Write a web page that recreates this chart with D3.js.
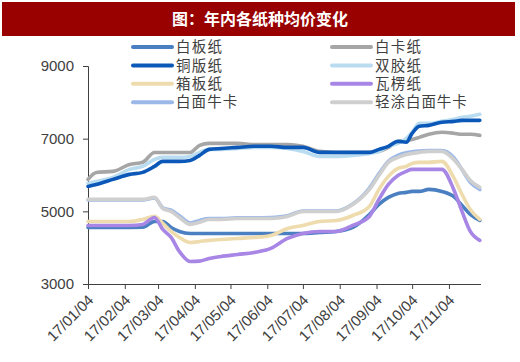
<!DOCTYPE html>
<html><head><meta charset="utf-8">
<script src="https://cdn.jsdelivr.net/npm/d3@7"></script>
<style>
body{margin:0;background:#fff;}
svg{display:block;}
text{font-family:"Liberation Sans",Arial,sans-serif;}
.cjk{font-family:"Noto Sans CJK SC","Noto Sans",sans-serif;}
</style></head>
<body><svg id="c" width="520" height="362"></svg>
<script>
const title = "图：年内各纸种均价变化";
const dates = ["2017-01-04","2017-01-11","2017-01-25","2017-02-08","2017-02-19","2017-03-01","2017-03-08","2017-03-15","2017-03-22","2017-03-31","2017-04-08","2017-04-16","2017-04-26","2017-05-10","2017-05-24","2017-06-07","2017-06-21","2017-07-04","2017-07-18","2017-08-01","2017-08-15","2017-08-29","2017-09-06","2017-09-14","2017-09-22","2017-09-29","2017-10-04","2017-10-10","2017-10-18","2017-10-29","2017-11-08","2017-11-15","2017-11-22","2017-11-30"];
const names = ["白板纸","白卡纸","铜版纸","双胶纸","箱板纸","瓦楞纸","白面牛卡","轻涂白面牛卡"];
const colors = ["#4a7fc1","#a6a6a6","#0c58b8","#b9dcf0","#eedcae","#a886e6","#9bb8e8","#cfcfcf"];
const baiban   = [4556,4556,4556,4556,4560,4722,4722,4556,4446,4391,4391,4391,4391,4391,4391,4391,4391,4391,4419,4446,4556,4914,5190,5383,5493,5521,5548,5548,5603,5548,5410,5163,4914,4750];
const baika    = [5880,6070,6100,6290,6350,6620,6620,6620,6620,6620,6815,6870,6870,6870,6840,6840,6840,6790,6650,6620,6620,6620,6650,6760,6925,6950,6980,7035,7120,7175,7150,7120,7120,7090];
const tongban  = [5686,5740,5880,6017,6072,6237,6375,6375,6375,6400,6540,6705,6730,6760,6790,6790,6760,6760,6623,6623,6623,6623,6705,6790,6925,6900,7146,7340,7366,7450,7477,7504,7504,7504];
const shuangjiao=[5769,5824,5935,6154,6237,6430,6485,6485,6485,6512,6623,6705,6705,6730,6760,6760,6730,6650,6512,6512,6540,6595,6650,6788,6870,7010,7174,7420,7420,7477,7531,7587,7614,7670];
const xiangban = [4722,4722,4722,4722,4777,4860,4667,4446,4281,4143,4171,4200,4226,4254,4281,4336,4529,4612,4722,4749,4886,5135,5603,5961,6182,6237,6320,6347,6347,6375,5933,5465,5052,4777];
const waleng   = [4612,4612,4612,4612,4640,4832,4501,4281,3895,3620,3630,3703,3758,3813,3868,3978,4254,4391,4446,4446,4612,4859,5328,5741,5989,6099,6154,6154,6154,6154,5603,4997,4446,4200];
const baimian  = [5310,5310,5310,5310,5310,5370,5100,5030,4880,4680,4750,4800,4800,4820,4820,4830,4880,5010,5010,5010,5200,5640,6030,6380,6540,6610,6640,6660,6670,6670,6480,6150,5800,5600];
const qingtu   = [5328,5328,5328,5328,5328,5383,5080,4997,4832,4640,4700,4777,4777,4804,4804,4804,4859,4997,4997,4997,5190,5603,5990,6347,6485,6567,6595,6623,6650,6650,6430,6154,5850,5658];
const seriesVals = [baiban,baika,tongban,shuangjiao,xiangban,waleng,baimian,qingtu];
const yTicks = [3000,5000,7000,9000];
const xTickDates = ["2017-01-04","2017-02-04","2017-03-04","2017-04-04","2017-05-04","2017-06-04","2017-07-04","2017-08-04","2017-09-04","2017-10-04","2017-11-04"];

const svg = d3.select("#c");
const parse = d3.timeParse("%Y-%m-%d");
const fmt = d3.timeFormat("%y/%m/%d");

// title bar
svg.append("rect").attr("x",2).attr("y",2).attr("width",513).attr("height",34).attr("fill","#990000");
svg.append("text").attr("class","cjk").attr("x",260).attr("y",25).attr("text-anchor","middle")
  .attr("fill","#fff").attr("font-size",16).attr("font-weight","bold").text(title);

const x = d3.scaleTime().domain([parse("2017-01-04"), parse("2017-12-01")]).range([88,481]);
const y = d3.scaleLinear().domain([3000,9000]).range([284,66]);

const axisColor = "#404040";
// y axis
const ya = svg.append("g").attr("transform","translate(88,0)")
  .call(d3.axisLeft(y).tickValues(yTicks).tickSize(5).tickPadding(9).tickFormat(d3.format("d")));
ya.select(".domain").attr("stroke",axisColor).attr("d","M-5,66.5H0.5V284.5");
ya.selectAll(".tick line").attr("stroke",axisColor);
ya.selectAll("text").attr("font-size",15).attr("fill","#404040").attr("font-family","Liberation Sans, Arial, sans-serif");

// x axis
const xa = svg.append("g").attr("transform","translate(0,284)")
  .call(d3.axisBottom(x).tickValues(xTickDates.map(parse)).tickSize(5).tickFormat(fmt));
xa.select(".domain").attr("stroke",axisColor).attr("d","M88,0.5H481");
xa.selectAll(".tick line").attr("stroke",axisColor);
xa.selectAll("text").attr("font-size",15).attr("fill","#404040").attr("font-family","Liberation Sans, Arial, sans-serif")
  .attr("text-anchor","end").attr("dy",0).attr("y",0)
  .attr("transform","translate(6,17) rotate(-45)");

// lines
const line = d3.line().x(d=>x(d[0])).y(d=>y(d[1])).curve(d3.curveMonotoneX);
const drawOrder = [0,1,3,2,4,5,6,7];
drawOrder.forEach(i=>{
  const pts = dates.map((d,j)=>[parse(d), seriesVals[i][j]]);
  svg.append("path").datum(pts).attr("d",line).attr("fill","none")
    .attr("stroke",colors[i]).attr("stroke-width",3.6).attr("stroke-linejoin","round").attr("stroke-linecap","round");
});

// legend
const lg = svg.append("g");
names.forEach((n,i)=>{
  const col = i%2, row = Math.floor(i/2);
  const lx = col===0 ? 133 : 332;
  const ly = 47 + row*18.4;
  lg.append("line").attr("x1",lx).attr("x2",lx+39).attr("y1",ly).attr("y2",ly)
    .attr("stroke",colors[i]).attr("stroke-width",4).attr("stroke-linecap","round");
  lg.append("text").attr("class","cjk").attr("x",lx+43).attr("y",ly).attr("dy","0.36em")
    .attr("font-size",14.5).attr("textLength",n.length*15.3).attr("lengthAdjust","spacing")
    .attr("fill","#404040").text(n);
});
</script></body></html>
